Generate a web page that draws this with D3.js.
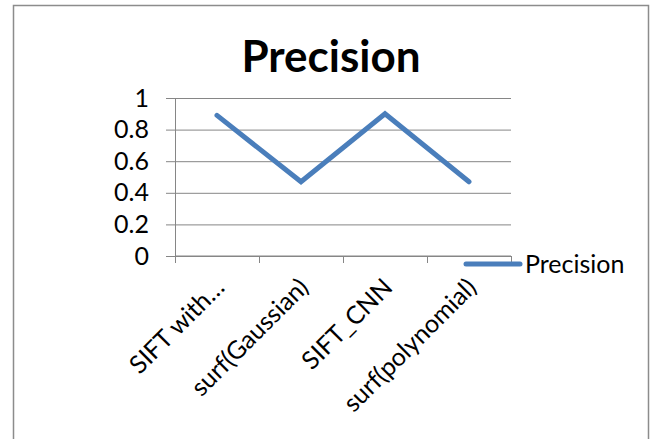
<!DOCTYPE html>
<html>
<head>
<meta charset="utf-8">
<script src="https://cdn.jsdelivr.net/npm/d3@7"></script>
<style>
  body { margin: 0; background: #fff; }
  text { font-family: Lato, "Open Sans", sans-serif; fill: #000; }
</style>
</head>
<body>
<div id="canvas"></div>
<script>
// categories and values
const categories = ["SIFT with…", "surf(Gaussian)", "SIFT_CNN", "surf(polynomial)"];
const precision = [0.89, 0.47, 0.9, 0.47];
const yTicks = [0, 0.2, 0.4, 0.6, 0.8, 1];
const seriesName = "Precision";
const chartTitle = "Precision";

const W = 653, H = 439;
const margin = {top: 98, right: 142, bottom: 183, left: 175},
    width = W - margin.left - margin.right,
    height = H - margin.top - margin.bottom;

const root = d3.select("#canvas")
    .append("svg")
    .attr("width", W)
    .attr("height", H);

// outer chart border (bottom edge is cut off in the picture)
root.append("path")
    .attr("d", "M13.5," + (H + 2) + "V5.5H648.5V" + (H + 2))
    .style("fill", "none")
    .style("stroke", "#8c8c8c")
    .style("stroke-width", 1.5);

root.append("text")
    .attr("x", 331)
    .attr("y", 72)
    .attr("text-anchor", "middle")
    .style("font-size", "44px")
    .style("font-weight", "bold")
    .text(chartTitle);

const svg = root.append("g")
    .attr("transform", "translate(" + margin.left + "," + margin.top + ")");

const x = d3.scaleBand()
    .domain(categories)
    .range([0, width]);

const y = d3.scaleLinear()
    .domain([0, 1])
    .range([height, 0]);

// horizontal gridlines + y labels
const yAxis = svg.append("g")
    .call(d3.axisLeft(y).tickValues(yTicks).tickFormat(d3.format("")))
    .attr("transform", "translate(-9,0)");
yAxis.select(".domain").remove();
yAxis.selectAll(".tick line")
    .attr("x1", 0)
    .attr("x2", width + 9)
    .style("stroke", "#868686");
yAxis.selectAll(".tick text")
    .attr("x", -17)
    .style("font-size", "25px")
    .style("font-family", "Lato, sans-serif");

// vertical axis line
svg.append("line")
    .attr("x1", 0.5).attr("x2", 0.5)
    .attr("y1", y(1)).attr("y2", height + 7)
    .style("stroke", "#868686");

// x axis with ticks between categories
const xg = svg.append("g")
    .attr("transform", "translate(0," + height + ")");
xg.append("line")
    .attr("x1", 0).attr("x2", width)
    .style("stroke", "#868686");
xg.selectAll(".sep")
    .data(d3.range(categories.length + 1))
    .enter()
    .append("line")
    .attr("x1", i => Math.round(i * x.step()) + 0.5)
    .attr("x2", i => Math.round(i * x.step()) + 0.5)
    .attr("y1", 0).attr("y2", 7)
    .style("stroke", "#868686");
xg.selectAll(".lbl")
    .data(categories)
    .enter()
    .append("text")
    .attr("text-anchor", "end")
    .attr("transform", d => "translate(" + (x(d) + x.bandwidth() / 2 + 9) + ",33) rotate(-45)")
    .style("font-size", "25px")
    .text(d => d);

// the series line
const line = d3.line()
    .x((d, i) => x(categories[i]) + x.bandwidth() / 2)
    .y(d => y(d));

svg.append("path")
    .datum(precision)
    .attr("d", line)
    .style("fill", "none")
    .style("stroke", "#4a7ebb")
    .style("stroke-width", 5)
    .style("stroke-linecap", "round")
    .style("stroke-linejoin", "miter");

// legend
const lg = root.append("g").attr("transform", "translate(466,264)");
lg.append("line")
    .attr("x1", 0).attr("x2", 54)
    .style("stroke", "#4a7ebb")
    .style("stroke-width", 5)
    .style("stroke-linecap", "round");
lg.append("text")
    .attr("x", 59)
    .attr("y", 9)
    .style("font-size", "25px")
    .text(seriesName);
</script>
</body>
</html>
